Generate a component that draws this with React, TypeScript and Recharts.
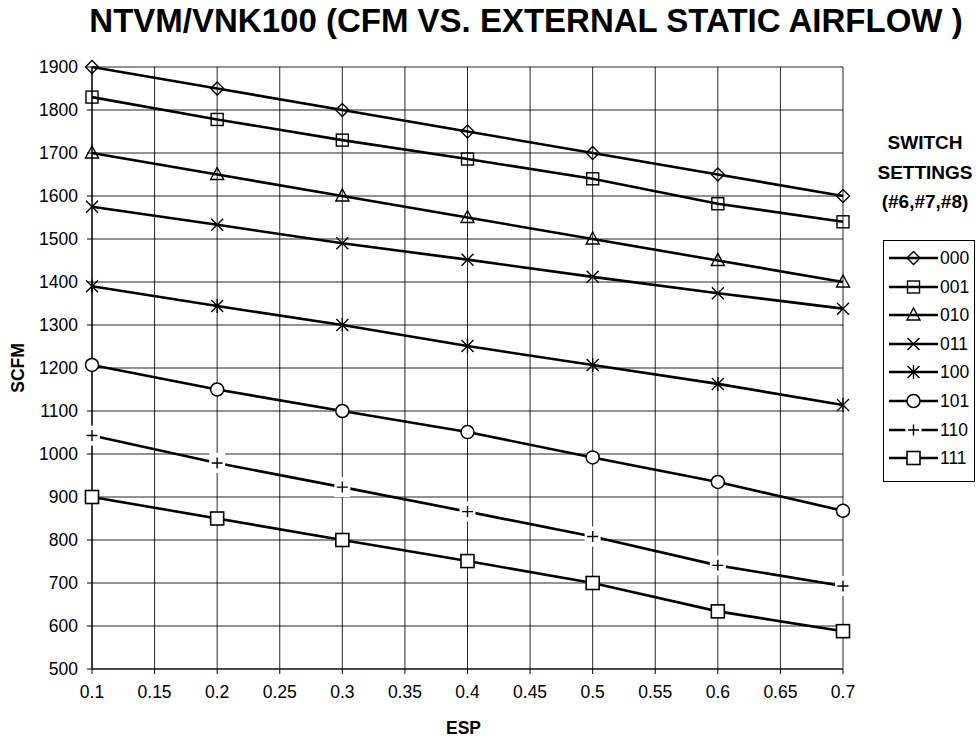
import React from 'react';
import { LineChart, Line, XAxis, YAxis, CartesianGrid } from 'recharts';

const esp = [0.1, 0.2, 0.3, 0.4, 0.5, 0.6, 0.7];
const s000 = [1900, 1850, 1800, 1750, 1700, 1650, 1600];
const s001 = [1830, 1778, 1730, 1686, 1640, 1582, 1540];
const s010 = [1700, 1650, 1600, 1550, 1500, 1450, 1400];
const s011 = [1575, 1533, 1490, 1452, 1412, 1374, 1338];
const s100 = [1390, 1344, 1300, 1251, 1207, 1163, 1114];
const s101 = [1207, 1150, 1100, 1051, 992, 935, 868];
const s110 = [1043, 979, 923, 866, 808, 741, 693];
const s111 = [900, 850, 800, 751, 700, 634, 588];

const seriesNames = ['000', '001', '010', '011', '100', '101', '110', '111'];
const seriesValues = [s000, s001, s010, s011, s100, s101, s110, s111];
const markerKinds = ['diamond', 'squareOpen', 'triangle', 'x', 'asterisk', 'circle', 'plus', 'square'];

const xTicks = [0.1, 0.15, 0.2, 0.25, 0.3, 0.35, 0.4, 0.45, 0.5, 0.55, 0.6, 0.65, 0.7];
const yTicks = [500, 600, 700, 800, 900, 1000, 1100, 1200, 1300, 1400, 1500, 1600, 1700, 1800, 1900];

const titleText = 'NTVM/VNK100 (CFM VS. EXTERNAL STATIC AIRFLOW )';
const legendTitle = ['SWITCH', 'SETTINGS', '(#6,#7,#8)'];
const xLabel = 'ESP';
const yLabel = 'SCFM';

const data = esp.map((x, i) => {
  const row: Record<string, number> = { esp: x };
  seriesNames.forEach((n, j) => {
    row['s' + n] = seriesValues[j][i];
  });
  return row;
});

const FONT = '"Liberation Sans", Arial, Helvetica, sans-serif';

function Marker({ kind, cx, cy }: { kind: string; cx: number; cy: number }) {
  const sw = 1.4;
  const st = '#000';
  switch (kind) {
    case 'diamond':
      return (
        <path
          d={`M${cx} ${cy - 6.5} L${cx + 6.5} ${cy} L${cx} ${cy + 6.5} L${cx - 6.5} ${cy} Z`}
          fill="none"
          stroke={st}
          strokeWidth={sw}
        />
      );
    case 'squareOpen':
      return <rect x={cx - 6} y={cy - 6} width={12} height={12} fill="none" stroke={st} strokeWidth={sw} />;
    case 'triangle':
      return (
        <path
          d={`M${cx} ${cy - 7} L${cx + 6.5} ${cy + 5} L${cx - 6.5} ${cy + 5} Z`}
          fill="none"
          stroke={st}
          strokeWidth={sw}
        />
      );
    case 'x':
      return (
        <path
          d={`M${cx - 6} ${cy - 6} L${cx + 6} ${cy + 6} M${cx + 6} ${cy - 6} L${cx - 6} ${cy + 6}`}
          stroke={st}
          strokeWidth={sw}
          fill="none"
        />
      );
    case 'asterisk':
      return (
        <path
          d={`M${cx - 6} ${cy - 6} L${cx + 6} ${cy + 6} M${cx + 6} ${cy - 6} L${cx - 6} ${cy + 6} M${cx} ${cy - 7} L${cx} ${cy + 7}`}
          stroke={st}
          strokeWidth={sw}
          fill="none"
        />
      );
    case 'circle':
      return <circle cx={cx} cy={cy} r={6.5} fill="#fff" stroke={st} strokeWidth={1.5} />;
    case 'plus':
      return (
        <g>
          <rect x={cx - 8} y={cy - 10} width={16} height={20} fill="#fff" />
          <path d={`M${cx - 5.5} ${cy} L${cx + 5.5} ${cy} M${cx} ${cy - 5.5} L${cx} ${cy + 5.5}`} stroke={st} strokeWidth={sw} />
        </g>
      );
    case 'square':
    default:
      return <rect x={cx - 6.5} y={cy - 6.5} width={13} height={13} fill="#fff" stroke={st} strokeWidth={1.6} />;
  }
}

function YTitle(props: any) {
  const vb = props.viewBox || { x: 12, y: 67, width: 80, height: 602 };
  const x = vb.x + 6;
  const y = vb.y + vb.height / 2;
  return (
    <text
      x={x}
      y={y}
      transform={`rotate(-90 ${x} ${y})`}
      textAnchor="middle"
      dominantBaseline="central"
      style={{ fontFamily: FONT, fontWeight: 'bold', fontSize: 17.5, fill: '#000' }}
    >
      {yLabel}
    </text>
  );
}

function XTitle(props: any) {
  const vb = props.viewBox || { x: 92, y: 669, width: 751, height: 62 };
  const x = vb.x + vb.width / 2 - 4;
  const y = vb.y + 59;
  return (
    <text
      x={x}
      y={y}
      textAnchor="middle"
      dominantBaseline="central"
      style={{ fontFamily: FONT, fontWeight: 'bold', fontSize: 17.5, fill: '#000' }}
    >
      {xLabel}
    </text>
  );
}

export default function App() {
  const tickStyle = { fontFamily: FONT, fontSize: 17.5, fill: '#000' };
  return (
    <div style={{ position: 'absolute', left: 0, top: 0, width: 980, height: 740, background: '#fff' }}>
      <div
        style={{
          position: 'absolute',
          left: 72,
          top: 2,
          width: 908,
          textAlign: 'center',
          fontFamily: FONT,
          fontWeight: 'bold',
          fontSize: 33,
          lineHeight: '38px',
          color: '#000',
          whiteSpace: 'nowrap',
        }}
      >
        {titleText}
      </div>
      <LineChart
        width={980}
        height={740}
        data={data}
        margin={{ top: 67, right: 137, bottom: 9, left: 12 }}
      >
        <CartesianGrid stroke="#000" strokeWidth={1} strokeOpacity={0.85} />
        <XAxis
          dataKey="esp"
          type="number"
          domain={[0.1, 0.7]}
          ticks={xTicks}
          interval={0}
          tickFormatter={(v: number) => String(v)}
          height={62}
          tickSize={5}
          tickMargin={12}
          axisLine={{ stroke: '#000', strokeWidth: 1.2 }}
          tickLine={{ stroke: '#000' }}
          tick={tickStyle}
          label={<XTitle />}
        />
        <YAxis
          type="number"
          domain={[500, 1900]}
          ticks={yTicks}
          interval={0}
          width={80}
          tickSize={5}
          tickMargin={9}
          axisLine={{ stroke: '#000', strokeWidth: 1.2 }}
          tickLine={{ stroke: '#000' }}
          tick={tickStyle}
          label={<YTitle />}
        />
        {seriesNames.map((n, j) => (
          <Line
            key={n}
            dataKey={'s' + n}
            name={n}
            type="linear"
            stroke="#000"
            strokeWidth={2.6}
            isAnimationActive={false}
            dot={(p: any) => <Marker key={n + '-' + p.index} kind={markerKinds[j]} cx={p.cx} cy={p.cy} />}
            activeDot={false}
          />
        ))}
      </LineChart>
      <div
        style={{
          position: 'absolute',
          left: 870,
          top: 128,
          width: 110,
          textAlign: 'center',
          fontFamily: FONT,
          fontWeight: 'bold',
          fontSize: 19,
          lineHeight: '29.5px',
          color: '#000',
        }}
      >
        {legendTitle.map((t) => (
          <div key={t}>{t}</div>
        ))}
      </div>
      <div
        style={{
          position: 'absolute',
          left: 883,
          top: 240,
          width: 92,
          height: 242,
          border: '1px solid #000',
          boxSizing: 'border-box',
          background: '#fff',
        }}
      >
        {seriesNames.map((n, j) => (
          <div
            key={n}
            style={{
              position: 'absolute',
              left: 0,
              top: 17 + j * 28.6 - 14,
              height: 28,
              width: 92,
            }}
          >
            <svg width={56} height={28} style={{ position: 'absolute', left: 0, top: 0 }}>
              <line x1={5} y1={14} x2={54} y2={14} stroke="#000" strokeWidth={2.6} />
              <Marker kind={markerKinds[j]} cx={29.5} cy={14} />
            </svg>
            <span
              style={{
                position: 'absolute',
                left: 56,
                top: 0,
                lineHeight: '28px',
                fontFamily: FONT,
                fontSize: 17.5,
                color: '#000',
              }}
            >
              {n}
            </span>
          </div>
        ))}
      </div>
    </div>
  );
}
